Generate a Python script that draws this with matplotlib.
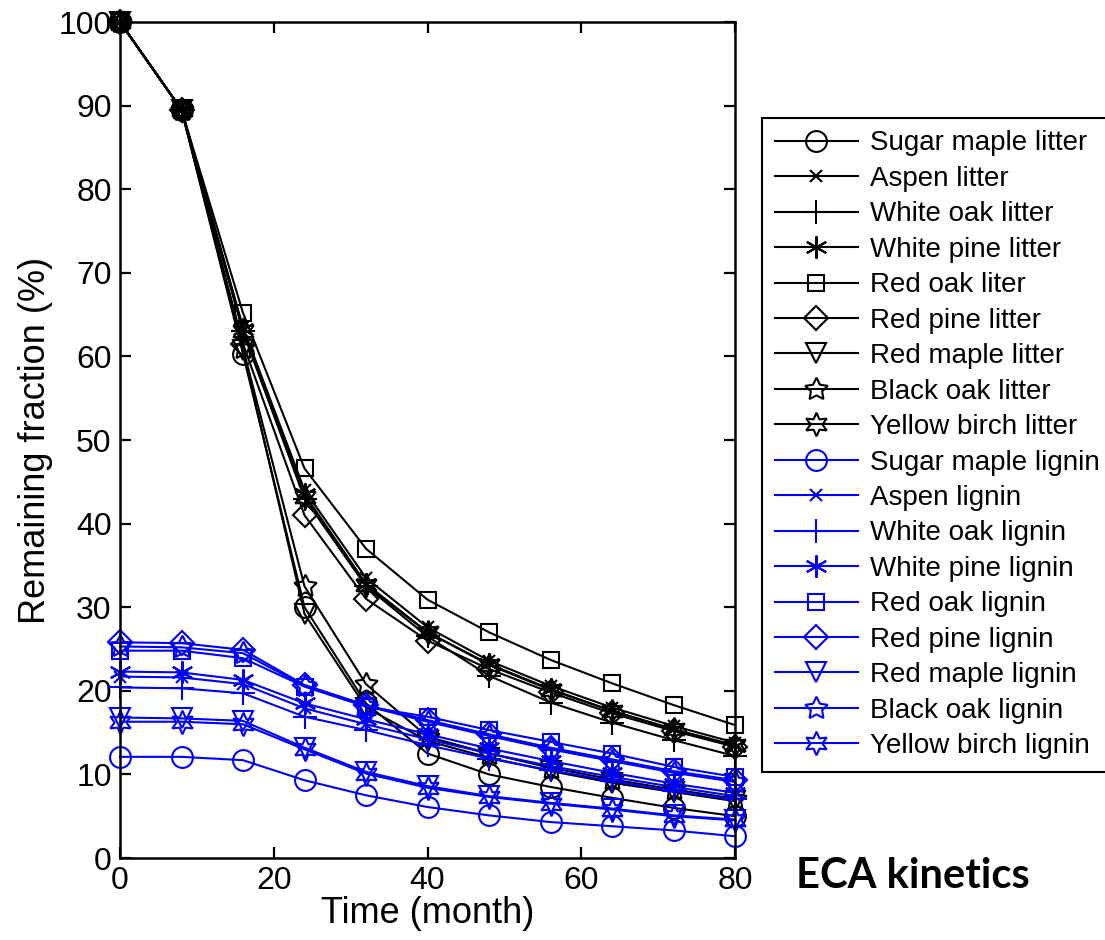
import matplotlib
matplotlib.use("Agg")
import matplotlib.pyplot as plt

plt.rcParams['font.family'] = ['Liberation Sans', 'DejaVu Sans']

# time axis (month)
months = [0, 8, 16, 24, 32, 40, 48, 56, 64, 72, 80]

species = ["Sugar maple", "Aspen", "White oak", "White pine", "Red oak",
           "Red pine", "Red maple", "Black oak", "Yellow birch"]
litter_names = ["Sugar maple litter", "Aspen litter", "White oak litter",
                "White pine litter", "Red oak liter", "Red pine litter",
                "Red maple litter", "Black oak litter", "Yellow birch litter"]
lignin_names = [s + " lignin" for s in species]

# remaining fraction (%) of litter
sugar_maple_litter = [100, 89.5, 60.3, 30.0, 18.5, 12.5, 10.0, 8.5, 7.2, 6.0, 5.0]
aspen_litter = [100, 89.5, 63.5, 44.0, 33.5, 27.6, 23.6, 20.6, 18.0, 15.8, 13.8]
white_oak_litter = [100, 89.5, 63.0, 43.0, 32.5, 26.5, 21.8, 18.6, 16.2, 14.1, 12.2]
white_pine_litter = [100, 89.5, 63.3, 43.5, 32.8, 27.0, 23.2, 20.2, 17.6, 15.4, 13.4]
red_oak_litter = [100, 89.5, 65.2, 46.6, 37.0, 30.9, 27.0, 23.7, 20.9, 18.3, 15.9]
red_pine_litter = [100, 89.5, 61.5, 41.0, 31.0, 26.0, 22.6, 19.8, 17.3, 15.2, 13.3]
red_maple_litter = [100, 89.5, 60.8, 29.2, 18.0, 14.0, 12.0, 10.4, 9.0, 7.9, 6.8]
black_oak_litter = [100, 89.5, 61.0, 32.5, 20.8, 14.5, 12.5, 10.8, 9.4, 8.2, 7.1]
yellow_birch_litter = [100, 89.5, 63.0, 43.2, 32.6, 27.0, 23.1, 20.1, 17.6, 15.4, 13.5]

# remaining fraction (%) of lignin
sugar_maple_lignin = [12.1, 12.1, 11.7, 9.3, 7.5, 6.1, 5.1, 4.3, 3.8, 3.3, 2.6]
aspen_lignin = [21.7, 21.6, 20.8, 17.9, 16.0, 14.2, 12.5, 11.0, 9.7, 8.5, 7.4]
white_oak_lignin = [20.4, 20.3, 19.7, 16.9, 15.3, 13.5, 11.9, 10.5, 9.2, 8.0, 7.0]
white_pine_lignin = [22.3, 22.2, 21.3, 18.5, 16.6, 14.8, 13.1, 11.6, 10.2, 8.9, 7.8]
red_oak_lignin = [24.8, 24.8, 23.9, 20.5, 18.1, 16.9, 15.3, 13.9, 12.5, 10.9, 9.7]
red_pine_lignin = [25.8, 25.7, 24.9, 20.7, 18.3, 16.5, 14.8, 13.2, 11.8, 10.4, 9.3]
red_maple_lignin = [16.8, 16.7, 16.4, 13.2, 10.3, 8.6, 7.4, 6.6, 5.9, 5.1, 4.6]
black_oak_lignin = [25.3, 25.2, 24.5, 20.6, 18.2, 16.3, 14.6, 13.0, 11.6, 10.2, 9.1]
yellow_birch_lignin = [16.3, 16.3, 16.0, 13.0, 10.1, 8.4, 7.3, 6.5, 5.8, 5.0, 4.5]

litter = [sugar_maple_litter, aspen_litter, white_oak_litter, white_pine_litter,
          red_oak_litter, red_pine_litter, red_maple_litter, black_oak_litter,
          yellow_birch_litter]
lignin = [sugar_maple_lignin, aspen_lignin, white_oak_lignin, white_pine_lignin,
          red_oak_lignin, red_pine_lignin, red_maple_lignin, black_oak_lignin,
          yellow_birch_lignin]

# matlab style markers: o x + * s d v p h
markers = ['o', 'x', '+', (6, 2, 0), 's', 'D', 'v', (5, 1, 0), (6, 1, 0)]
msizes = [15, 9, 17, 16, 12, 12, 15, 17, 17]

fig = plt.figure(figsize=(11.05, 9.4), dpi=100)
ax = fig.add_axes([120/1105, 82/940, 615/1105, 836/940])

def draw(data, names, color):
    for y, name, m, ms in zip(data, names, markers, msizes):
        ax.plot(months, y, color=color, lw=1.5, marker=m, ms=ms,
                mfc='none', mec=color, mew=1.5, label=name, clip_on=False)

draw(litter, litter_names, 'k')
draw(lignin, lignin_names, '#0000ff')

ax.set_xlim(0, 80)
ax.set_ylim(0, 100)
ax.set_xticks([0, 20, 40, 60, 80])
ax.set_yticks(range(0, 101, 10))
ax.tick_params(direction='in', length=8, width=1.6, top=True, right=True,
               labelsize=23, pad=6)
for s in ax.spines.values():
    s.set_linewidth(1.8)
ax.set_xlabel("Time (month)", fontsize=26, labelpad=0)
ax.set_ylabel("Remaining fraction (%)", fontsize=26, labelpad=4)

leg = ax.legend(loc='upper left', bbox_to_anchor=(762/1105, 1 - 118/940),
                bbox_transform=fig.transFigure, fontsize=20, handlelength=3.0,
                handletextpad=0.45, labelspacing=0.34, borderpad=0.45,
                fancybox=False, framealpha=1, edgecolor='k', borderaxespad=0)
leg.get_frame().set_linewidth(1.5)

fig.text(913/1105, 1 - 876/940, "ECA kinetics", fontsize=30, fontweight='bold',
         family=['Lato', 'DejaVu Sans'], ha='center', va='center')

fig.savefig("out.png", dpi=100)
